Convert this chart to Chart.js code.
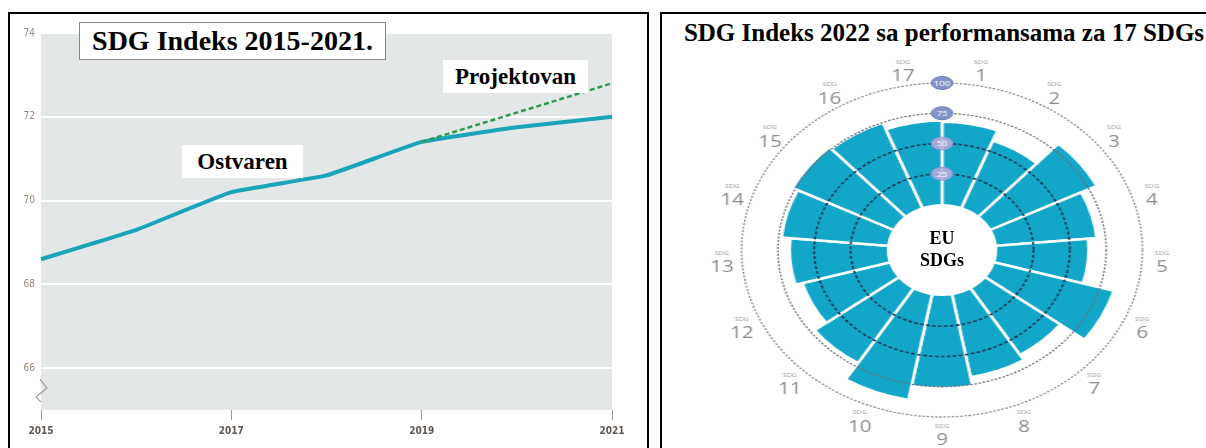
<!DOCTYPE html>
<html>
<head>
<meta charset="utf-8">
<script src="https://cdn.jsdelivr.net/npm/chart.js@4.4.0/dist/chart.umd.min.js"></script>
<style>
  body { margin: 0; width: 1206px; height: 448px; background: #fff; overflow: hidden; position: relative;
         font-family: "Liberation Serif", "Times New Roman", serif; }
  .panel { position: absolute; border: 2px solid #000; box-sizing: border-box; }
  #leftPanel { left: 8px; top: 12px; width: 641px; height: 460px; }
  #rightPanel { left: 660px; top: 12px; width: 580px; height: 460px; }
  canvas { position: absolute; }
  #lineCanvas { left: 10px; top: 14px; }
  #roseCanvas { left: 722px; top: 50px; transform: scaleX(1.2); transform-origin: 50% 50%; }
  .note { position: absolute; background: #fff; font-weight: bold; color: #000; text-align: center; white-space: nowrap; }
  #leftTitle { left: 79px; top: 22px; width: 305px; height: 36px; border: 1px solid #888; font-size: 28px; line-height: 36px; }
  #ostvaren { left: 182px; top: 145px; width: 121px; height: 33px; font-size: 23px; line-height: 33px; }
  #projektovan { left: 443px; top: 60px; width: 145px; height: 33px; font-size: 23px; line-height: 33px; }
  #rightTitle { left: 662px; top: 18px; width: 564px; font-size: 25px; line-height: 30px; background: none; }
  #centerText { left: 902px; top: 227px; width: 80px; font-size: 18px; line-height: 22px; background: none; }
</style>
</head>
<body>
<div class="panel" id="leftPanel"></div>
<div class="panel" id="rightPanel"></div>

<canvas id="lineCanvas" width="636" height="434"></canvas>
<canvas id="roseCanvas" width="440" height="400"></canvas>

<div class="note" id="leftTitle">SDG Indeks 2015-2021.</div>
<div class="note" id="ostvaren">Ostvaren</div>
<div class="note" id="projektovan">Projektovan</div>
<div class="note" id="rightTitle">SDG Indeks 2022 sa performansama za 17 SDGs</div>
<div class="note" id="centerText">EU<br>SDGs</div>

<script>
// ---- left chart data ----
const years = ['2015', '2016', '2017', '2018', '2019', '2020', '2021'];
const achieved = [68.6, 69.3, 70.2, 70.6, 71.4, 71.75, 72.0];
const projected = [null, null, null, null, 71.4, 72.1, 72.8];
const yTicks = [66, 68, 70, 72, 74];

// ---- right chart data ----
const sdgNumbers = ['1', '2', '3', '4', '5', '6', '7', '8', '9', '10', '11', '12', '13', '14', '15', '16', '17'];
const sdgScores = [68, 59, 81, 69, 63, 85, 64, 69, 76, 88, 72, 62, 67, 73, 77, 75, 69];
const ringValues = [25, 50, 75, 100];


// grey plot area + the little axis break
const plotBackground = {
    id: 'plotBackground',
    beforeDraw(chart) {
        const a = chart.chartArea, ctx = chart.ctx;
        ctx.save();
        ctx.fillStyle = '#e4e7e8';
        ctx.fillRect(a.left, a.top, a.right - a.left, a.bottom - a.top);
        ctx.restore();
    },
    afterDraw(chart) {
        const a = chart.chartArea, ctx = chart.ctx;
        const y = chart.scales.y.getPixelForValue(65.5);
        ctx.save();
        ctx.fillStyle = '#fff';
        ctx.fillRect(a.left - 6, y - 10, 6, 24);
        ctx.strokeStyle = '#a0a0a0';
        ctx.lineWidth = 1.2;
        ctx.beginPath();
        ctx.moveTo(a.left - 1, y - 10);
        ctx.lineTo(a.left + 6, y - 1);
        ctx.lineTo(a.left - 5, y + 8);
        ctx.lineTo(a.left, y + 13);
        ctx.stroke();
        ctx.restore();
    }
};

new Chart(document.getElementById('lineCanvas'), {
    type: 'line',
    data: {
        labels: years,
        datasets: [
            {
                label: 'Projektovan',
                data: projected,
                borderColor: '#2f9a4c',
                borderWidth: 2.5,
                borderDash: [5, 3],
                pointRadius: 0,
                fill: false
            },
            {
                label: 'Ostvaren',
                data: achieved,
                borderColor: '#19a5b7',
                borderWidth: 4,
                pointRadius: 0,
                tension: 0.1,
                fill: false
            }
        ]
    },
    options: {
        responsive: false,
        animation: false,
        layout: { padding: { top: 19, right: 34, left: 0, bottom: 0 } },
        plugins: { legend: { display: false }, tooltip: { enabled: false } },
        scales: {
            x: {
                offset: false,
                afterFit: (s) => { s.height = 38; },
                grid: { drawOnChartArea: false, drawTicks: true, tickLength: 10, color: '#9a9a9a', lineWidth: 1 },
                border: { display: false },
                ticks: {
                    autoSkip: false,
                    maxRotation: 0,
                    padding: 5,
                    color: '#5f574f',
                    font: { family: '"Liberation Sans Narrow", "DejaVu Sans Condensed", sans-serif', size: 10, weight: 'bold' },
                    callback: function(value, index) {
                        return index % 2 === 0 ? years[index] : null;
                    }
                }
            },
            y: {
                min: 65,
                max: 74,
                afterFit: (s) => { s.width = 31; },
                afterBuildTicks: (s) => { s.ticks = yTicks.map(v => ({ value: v })); },
                grid: { color: '#ffffff', lineWidth: 2, drawTicks: false },
                border: { display: false },
                ticks: {
                    padding: 6,
                    color: '#9a8b7c',
                    font: { family: '"Liberation Sans Narrow", "DejaVu Sans Condensed", sans-serif', size: 10 }
                }
            }
        }
    },
    plugins: [plotBackground]
});


// hole, dashed rings, value bubbles and SDG labels of the rose
const roseDecor = {
    id: 'roseDecor',
    afterDatasetsDraw(chart) {
        const ctx = chart.ctx, r = chart.scales.r;
        const cx = r.xCenter, cy = r.yCenter;
        ctx.save();

        // white centre
        ctx.fillStyle = '#fff';
        ctx.beginPath();
        ctx.arc(cx, cy, r.getDistanceFromCenterForValue(0), 0, Math.PI * 2);
        ctx.fill();

        // rings
        ringValues.forEach(v => {
            const d = r.getDistanceFromCenterForValue(v);
            ctx.beginPath();
            if (v === 100) {
                ctx.setLineDash([2, 1.5]);
                ctx.strokeStyle = '#8a8a8a';
                ctx.lineWidth = 1.3;
            } else if (v === 75) {
                ctx.setLineDash([2, 1.5]);
                ctx.strokeStyle = '#6b727c';
                ctx.lineWidth = 1.3;
            } else {
                ctx.setLineDash([3, 2]);
                ctx.strokeStyle = '#1b3850';
                ctx.lineWidth = 1.6;
            }
            ctx.arc(cx, cy, d, 0, Math.PI * 2);
            ctx.stroke();
        });
        ctx.setLineDash([]);

        // value bubbles on the top axis
        ringValues.forEach(v => {
            const y = cy - r.getDistanceFromCenterForValue(v);
            ctx.beginPath();
            ctx.ellipse(cx, y, 9, 6.5, 0, 0, Math.PI * 2);
            ctx.fillStyle = v >= 75 ? '#8493c9' : 'rgba(178, 172, 222, 0.9)';
            ctx.fill();
            ctx.lineWidth = 1;
            ctx.strokeStyle = v >= 75 ? '#6c7cb6' : 'rgba(150, 150, 210, 0.9)';
            ctx.stroke();
            ctx.fillStyle = '#fff';
            ctx.font = '8px "Open Sans", sans-serif';
            ctx.textAlign = 'center';
            ctx.textBaseline = 'middle';
            ctx.fillText(String(v), cx, y + 0.5);
        });

        // SDG labels around the outside
        const half = Math.PI / sdgNumbers.length;
        sdgNumbers.forEach((n, i) => {
            const t = r.getIndexAngle(i) + half;
            const d = 183.5 - 6.5 * Math.cos(t);
            const x = cx + Math.sin(t) * d;
            const y = cy - Math.cos(t) * d;
            ctx.textAlign = 'center';
            ctx.textBaseline = 'middle';
            ctx.fillStyle = '#8b8b8b';
            ctx.font = '17px "Open Sans", sans-serif';
            ctx.fillText(n, x, y);
            ctx.fillStyle = '#9a9a9a';
            ctx.font = '6px "Open Sans", sans-serif';
            ctx.fillText('SDG', x, y - 14);
        });

        ctx.restore();
    }
};

new Chart(document.getElementById('roseCanvas'), {
    type: 'polarArea',
    data: {
        labels: sdgNumbers,
        datasets: [{
            data: sdgScores,
            backgroundColor: '#12a6c8',
            borderColor: '#ffffff',
            borderWidth: 2.5
        }]
    },
    options: {
        responsive: false,
        animation: false,
        layout: { padding: { top: 33, bottom: 33, left: 53, right: 53 } },
        plugins: { legend: { display: false }, tooltip: { enabled: false } },
        scales: {
            r: {
                min: -38,
                max: 100,
                startAngle: 0,
                grid: { display: false },
                angleLines: { display: false },
                ticks: { display: false },
                pointLabels: { display: false }
            }
        }
    },
    plugins: [roseDecor]
});
</script>
</body>
</html>
